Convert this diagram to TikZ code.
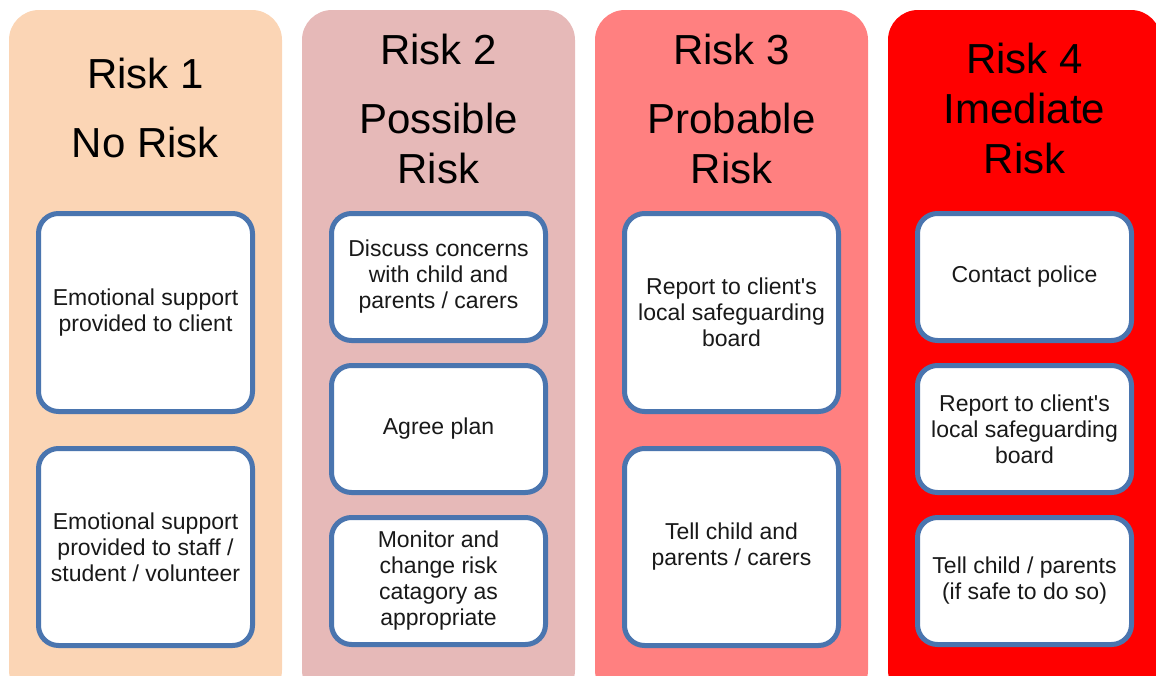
\documentclass[tikz,border=0pt]{standalone}
\usepackage{fontspec}
\setmainfont{Liberation Sans}[Ligatures=TeXOff]
\definecolor{cA}{HTML}{FBD5B5}
\definecolor{cB}{HTML}{E6B9B8}
\definecolor{cC}{HTML}{FF8080}
\definecolor{cD}{HTML}{FF0000}
\definecolor{bord}{RGB}{74,117,175}
\begin{document}
\begin{tikzpicture}[x=1pt,y=-1pt,
  column/.style={rectangle, rounded corners=30pt, minimum width=273pt, minimum height=690pt, anchor=north west, inner sep=0pt, outer sep=0pt},
  card/.style={draw=bord, line width=5pt, fill=white, rounded corners=20pt, minimum width=214pt, align=center, font=\fontsize{23}{26}\selectfont, inner sep=0pt, text=black!90},
  ttl/.style={font=\fontsize{42}{50}\selectfont, inner sep=0pt, anchor=base}]
\useasboundingbox (0,0) rectangle (1156,675);
\clip (0,0) rectangle (1156,675);
% columns
\node[column, fill=cA] (col1) at (9,10) {};
\node[column, fill=cB] (col2) at (302,10) {};
\node[column, fill=cC] (col3) at (595,10) {};
\node[column, fill=cD] (col4) at (888,10) {};
% titles
\node[ttl] (t1a) at (145.5,88) {Risk 1};
\node[ttl] (t1b) at (145.5,157) {No Risk};
\node[ttl] (t2a) at (438.5,64) {Risk 2};
\node[ttl] (t2b) at (438.5,133) {Possible};
\node[ttl] (t2c) at (438.5,183) {Risk};
\node[ttl] (t3a) at (731.5,64) {Risk 3};
\node[ttl] (t3b) at (731.5,133) {Probable};
\node[ttl] (t3c) at (731.5,183) {Risk};
\node[ttl] (t4a) at (1024.5,73) {Risk 4};
\node[ttl] (t4b) at (1024.5,123) {Imediate};
\node[ttl] (t4c) at (1024.5,173) {Risk};
% cards column 1
\node[card, minimum height=198pt] (a1) at (145.5,312.5) {Emotional support\\provided to client};
\node[card, minimum height=197pt] (a2) at (145.5,547) {Emotional support\\provided to staff /\\student / volunteer};
% column 2
\node[card, minimum height=127pt] (b1) at (438.5,277) {Discuss concerns\\with child and\\parents / carers};
\node[card, minimum height=127pt] (b2) at (438.5,429) {Agree plan};
\node[card, minimum height=127pt] (b3) at (438.5,581) {Monitor and\\change risk\\catagory as\\appropriate};
% column 3
\node[card, minimum height=198pt] (c1) at (731.5,312.5) {Report to client's\\local safeguarding\\board};
\node[card, minimum height=197pt] (c2) at (731.5,547) {Tell child and\\parents / carers};
% column 4
\node[card, minimum height=127pt] (d1) at (1024.5,277) {Contact police};
\node[card, minimum height=127pt] (d2) at (1024.5,429) {Report to client's\\local safeguarding\\board};
\node[card, minimum height=127pt] (d3) at (1024.5,581) {Tell child / parents\\(if safe to do so)};
\end{tikzpicture}
\end{document}
